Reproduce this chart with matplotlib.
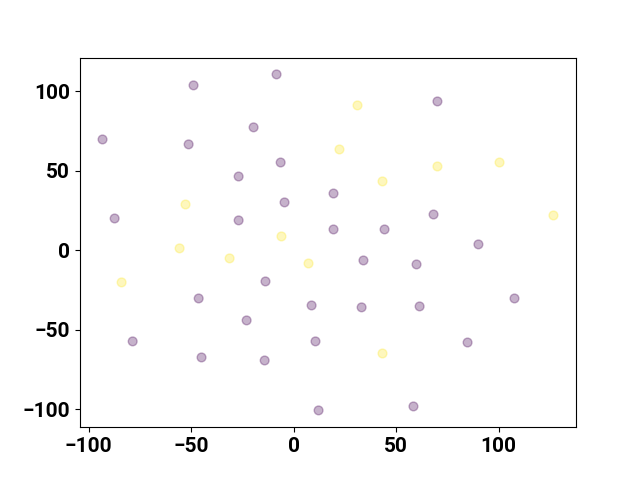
import matplotlib
matplotlib.use('Agg')
import matplotlib.pyplot as plt

plt.rcParams['font.family'] = ['Roboto', 'DejaVu Sans']

# group 0 (purple) and group 1 (yellow) points
x0 = [-93.2, -48.8, -8.3, 70.2, -51.2, -19.5, -6.3, -26.8, 19.5, -4.4,
      -87.3, -26.8, 19.5, 44.4, 68.3, 90.2, 34.1, 60.0, -13.7, -46.3,
      8.8, 33.2, 61.5, 107.8, -22.9, -78.5, 10.7, 84.9, -44.9, -14.1,
      12.2, 58.5]
y0 = [69.8, 103.8, 110.7, 93.7, 66.7, 77.4, 55.3, 46.5, 35.8, 30.2,
      20.1, 18.9, 13.2, 13.2, 22.6, 3.8, -6.3, -8.8, -19.5, -30.2,
      -34.6, -35.8, -35.2, -30.2, -44.0, -57.2, -57.2, -57.9, -67.3, -69.2,
      -100.6, -98.1]
x1 = [31.2, 22.4, 43.4, 70.2, 100.5, 126.8, -52.7, -5.9, -55.6, -31.2,
      7.3, -83.9, 43.4]
y1 = [91.2, 63.5, 43.4, 52.8, 55.3, 22.0, 28.9, 8.8, 1.3, -5.0,
      -8.2, -20.1, -64.8]

xs = x0 + x1
ys = y0 + y1
labels = [0] * len(x0) + [1] * len(x1)

fig, ax = plt.subplots(figsize=(6.4, 4.8), dpi=100)
ax.scatter(xs, ys, c=labels, cmap='viridis', alpha=0.3, s=40)
for lbl in ax.get_xticklabels() + ax.get_yticklabels():
    lbl.set_fontsize(15)
    lbl.set_fontweight('bold')

fig.savefig('out.png', dpi=100)
plt.close(fig)
